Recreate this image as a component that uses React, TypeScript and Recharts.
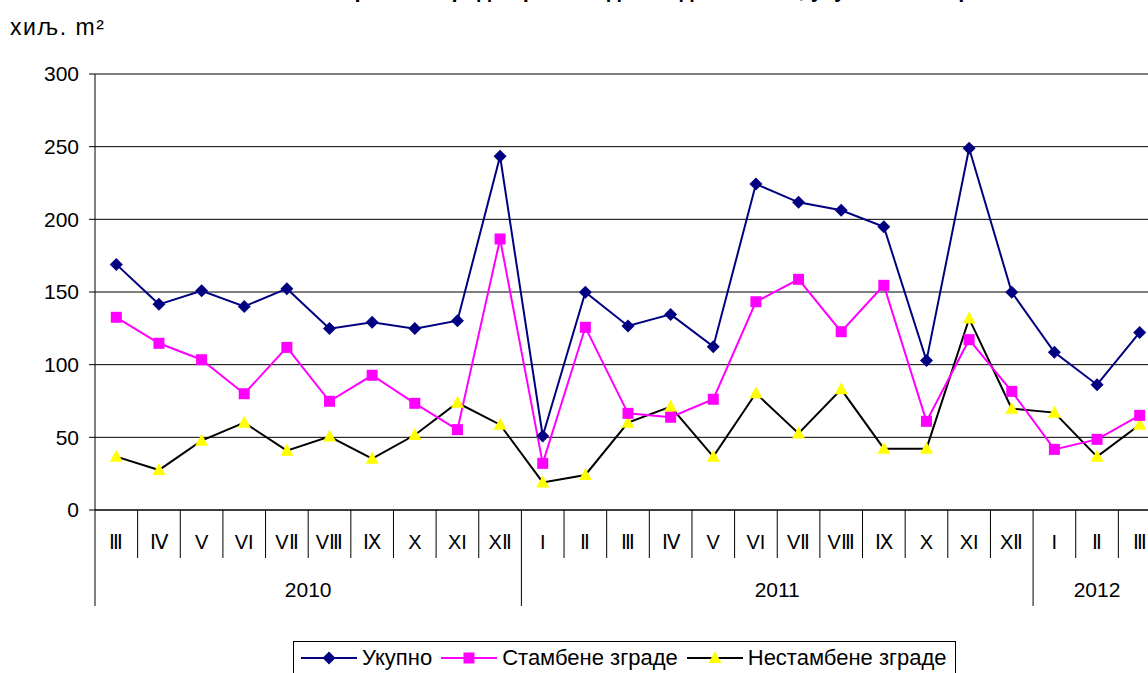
import { CartesianGrid, Legend, Line, LineChart, XAxis, YAxis } from "recharts";

const months = [
  "Ⅲ", "Ⅳ", "V", "VI", "VⅡ", "VⅢ", "Ⅸ", "X", "XI", "XⅡ",
  "I", "Ⅱ", "Ⅲ", "Ⅳ", "V", "VI", "VⅡ", "VⅢ", "Ⅸ", "X", "XI", "XⅡ",
  "I", "Ⅱ", "Ⅲ"
];

const yearSpans = [
  { year: "2010", count: 10 },
  { year: "2011", count: 12 },
  { year: "2012", count: 3 }
];

const ukupno = [
  169.0, 141.5, 150.9, 140.1, 152.3, 124.8, 129.1, 124.8, 130.3, 243.4,
  50.9, 149.8, 126.6, 134.6, 112.4, 224.3, 211.7, 206.2, 194.9, 102.8, 248.9, 149.8,
  108.5, 86.2, 122.2
];

const stambene = [
  132.6, 114.7, 103.4, 80.0, 111.9, 74.8, 92.7, 73.4, 55.3, 186.5,
  32.1, 125.7, 66.5, 63.8, 76.2, 143.3, 158.7, 122.7, 154.6, 61.0, 117.2, 81.6,
  41.7, 48.6, 65.1
];

const nestambene = [
  36.7, 27.5, 47.7, 60.1, 40.8, 50.5, 35.3, 51.6, 73.8, 58.7,
  19.0, 24.1, 60.1, 71.1, 36.7, 80.3, 52.7, 83.0, 42.2, 42.2, 131.7, 69.7,
  67.0, 36.7, 58.7
];

const yTicks = [0, 50, 100, 150, 200, 250, 300];

const FONT = "'Liberation Sans', Arial, sans-serif";
const PLOT_LEFT = 95;
const PLOT_W = 1066;
const AXIS_Y = 510;
const BAND = PLOT_W / months.length;

// index of first month of each year
const yearStarts = yearSpans.map((s, i) => ({
  ...s,
  start: yearSpans.slice(0, i).reduce((a, b) => a + b.count, 0)
}));

const data = months.map((m, i) => ({
  key: `${i}`,
  month: m,
  ukupno: ukupno[i],
  stambene: stambene[i],
  nestambene: nestambene[i]
}));

const MonthTick = (props: any) => {
  const { x, index, payload } = props;
  const i = index ?? payload?.index ?? Number(payload.value);
  const left = x - BAND / 2;
  const group = yearStarts.find((g) => g.start === i);
  return (
    <g>
      <line x1={left} x2={left} y1={AXIS_Y} y2={group ? AXIS_Y + 96 : AXIS_Y + 48} stroke="#000" strokeWidth={1} />
      <text x={x} y={AXIS_Y + 39} textAnchor="middle" fontSize={20} fontFamily={FONT} fill="#000">
        {months[i]}
      </text>
      {group && (
        <text x={left + (group.count * BAND) / 2} y={AXIS_Y + 87} textAnchor="middle" fontSize={21} fontFamily={FONT} fill="#000">
          {group.year}
        </text>
      )}
    </g>
  );
};

const Diamond = (props: any) => {
  const { cx, cy } = props;
  if (cx == null || cy == null) return null;
  const r = 6.5;
  return <path d={`M${cx},${cy - r}L${cx + r},${cy}L${cx},${cy + r}L${cx - r},${cy}Z`} fill="#000080" />;
};

const Square = (props: any) => {
  const { cx, cy } = props;
  if (cx == null || cy == null) return null;
  return <rect x={cx - 5.5} y={cy - 5.5} width={11} height={11} fill="#FF00FF" />;
};

const Triangle = (props: any) => {
  const { cx, cy } = props;
  if (cx == null || cy == null) return null;
  return <path d={`M${cx},${cy - 7}L${cx + 6.5},${cy + 5}L${cx - 6.5},${cy + 5}Z`} fill="#FFFF00" />;
};

const legendItems = [
  { name: "Укупно", color: "#000080", marker: "diamond" },
  { name: "Стамбене зграде", color: "#FF00FF", marker: "square" },
  { name: "Нестамбене зграде", color: "#000000", marker: "triangle" }
];

const LegendBox = () => (
  <div
    style={{
      position: "absolute",
      left: 293,
      top: 641,
      width: 663,
      height: 50,
      border: "1px solid #000",
      boxSizing: "border-box",
      display: "flex",
      alignItems: "flex-start",
      paddingTop: 3,
      paddingLeft: 7,
      fontFamily: FONT,
      fontSize: 22,
      lineHeight: "25px",
      color: "#000",
      background: "#fff",
      whiteSpace: "nowrap"
    }}
  >
    {legendItems.map((it) => (
      <div key={it.name} style={{ display: "flex", alignItems: "center", marginRight: 9 }}>
        <svg width={56} height={20} style={{ marginRight: 5 }}>
          <line x1={0} x2={56} y1={10} y2={10} stroke={it.color} strokeWidth={2} />
          {it.marker === "diamond" && <path d="M28,3.5L34.5,10L28,16.5L21.5,10Z" fill="#000080" />}
          {it.marker === "square" && <rect x={22.5} y={4.5} width={11} height={11} fill="#FF00FF" />}
          {it.marker === "triangle" && <path d="M28,3L34.5,15L21.5,15Z" fill="#FFFF00" />}
        </svg>
        <span>{it.name}</span>
      </div>
    ))}
  </div>
);

export default function App() {
  return (
    <div
      style={{
        position: "fixed",
        left: 0,
        top: 0,
        width: 1148,
        height: 673,
        overflow: "hidden",
        background: "#fff",
        fontFamily: FONT
      }}
    >
      <div
        style={{
          position: "absolute",
          left: 0,
          width: 1320,
          top: -23,
          lineHeight: "25px",
          textAlign: "center",
          fontWeight: "bold",
          fontSize: 22,
          whiteSpace: "nowrap"
        }}
      >
        Површина зграда према издатим дозволама, укупно и по врсти
      </div>
      <div style={{ position: "absolute", left: 10, top: 15, fontSize: 23, lineHeight: "25px", letterSpacing: 1.5 }}>
        хиљ. m²
      </div>
      <div style={{ position: "absolute", left: 0, top: 0 }}>
        <LineChart
          width={1180}
          height={673}
          data={data}
          margin={{ top: 74, right: 1180 - PLOT_LEFT - PLOT_W, left: 0, bottom: 0 }}
        >
          <CartesianGrid vertical={false} stroke="#000" strokeWidth={1} />
          <XAxis
            dataKey="key"
            interval={0}
            height={163}
            padding={{ left: BAND / 2, right: BAND / 2 }}
            tickLine={false}
            axisLine={{ stroke: "#000" }}
            tick={<MonthTick />}
          />
          <YAxis
            width={PLOT_LEFT}
            domain={[0, 300]}
            ticks={yTicks}
            tickSize={6}
            tickMargin={10}
            tickLine={{ stroke: "#000" }}
            axisLine={{ stroke: "#000" }}
            tick={{ fill: "#000", fontSize: 21, fontFamily: FONT }}
          />
          <Legend content={() => null} />
          <Line
            dataKey="nestambene"
            name="Нестамбене зграде"
            stroke="#000"
            strokeWidth={2}
            dot={<Triangle />}
            isAnimationActive={false}
          />
          <Line
            dataKey="stambene"
            name="Стамбене зграде"
            stroke="#FF00FF"
            strokeWidth={2}
            dot={<Square />}
            isAnimationActive={false}
          />
          <Line
            dataKey="ukupno"
            name="Укупно"
            stroke="#000080"
            strokeWidth={2}
            dot={<Diamond />}
            isAnimationActive={false}
          />
        </LineChart>
      </div>
      <LegendBox />
    </div>
  );
}
